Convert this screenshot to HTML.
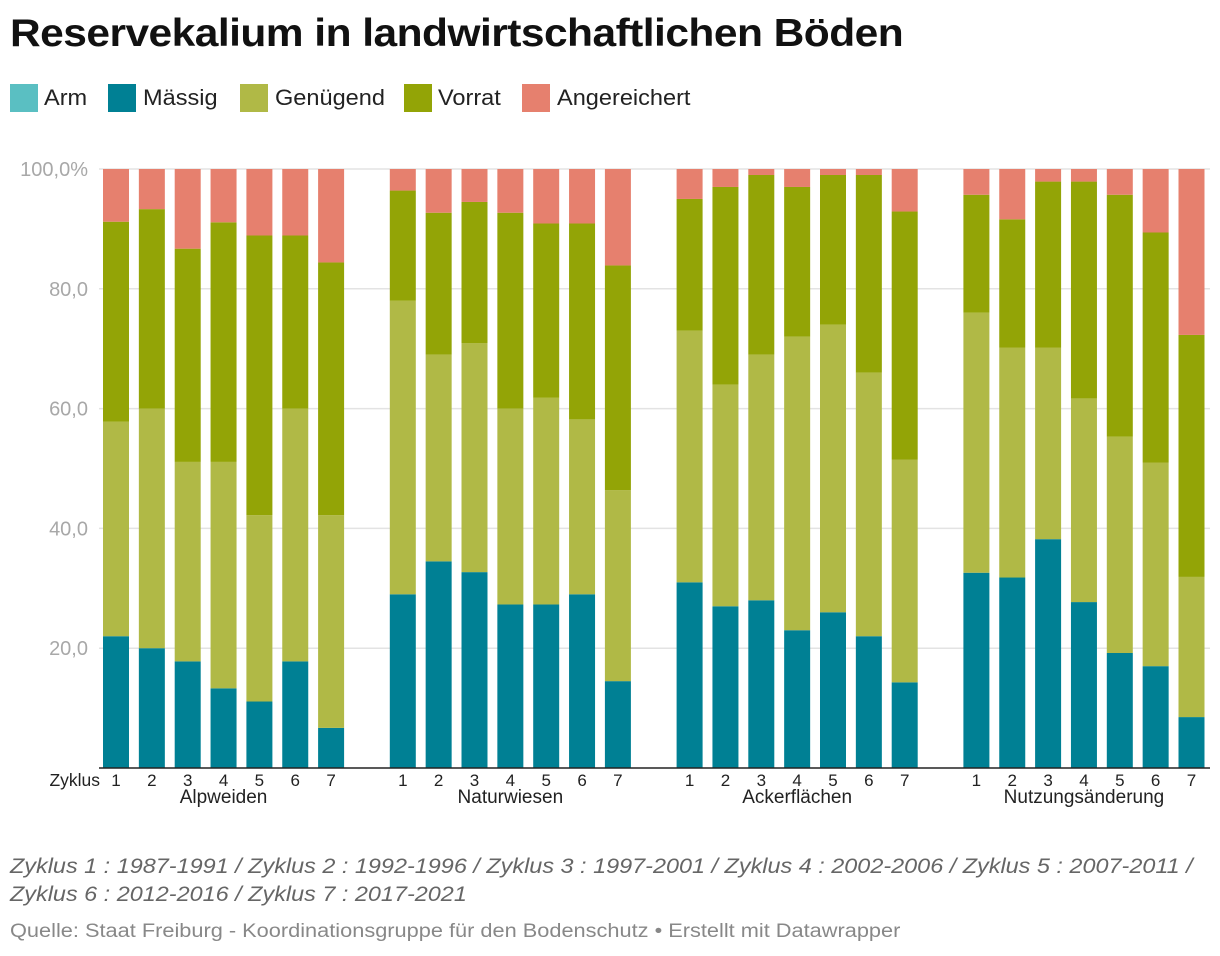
<!DOCTYPE html>
<html><head><meta charset="utf-8"><style>
body{margin:0;width:1220px;height:956px;background:#fff;font-family:"Liberation Sans",sans-serif;position:relative;overflow:hidden}
.t{position:absolute;white-space:nowrap;transform-origin:0 0}
.sw{position:absolute;top:84px;width:28px;height:28px}
.lg{font-size:22px;color:#222;top:85px;transform:scaleX(1.07)}
</style></head><body>
<div class="t" style="left:10px;top:12px;font-size:39px;font-weight:bold;color:#111;letter-spacing:-0.5px;transform:scaleX(1.09)">Reservekalium in landwirtschaftlichen Böden</div>
<div>
<div class="sw" style="left:10px;background:#5abfc2"></div><div class="t lg" style="left:44px">Arm</div>
<div class="sw" style="left:108px;background:#008094"></div><div class="t lg" style="left:143px">Mässig</div>
<div class="sw" style="left:240px;background:#b0b946"></div><div class="t lg" style="left:275px">Genügend</div>
<div class="sw" style="left:404px;background:#93a406"></div><div class="t lg" style="left:438px">Vorrat</div>
<div class="sw" style="left:522px;background:#e6806e"></div><div class="t lg" style="left:557px">Angereichert</div>
</div>
<svg id="c" width="1220" height="956" style="position:absolute;left:0;top:0"></svg>
<div class="t" style="left:10px;top:853px;font-size:21px;font-style:italic;color:#666;line-height:28px;transform:scaleX(1.115)">Zyklus 1 : 1987-1991 / Zyklus 2 : 1992-1996 / Zyklus 3 : 1997-2001 / Zyklus 4 : 2002-2006 / Zyklus 5 : 2007-2011 /<br>Zyklus 6 : 2012-2016 / Zyklus 7 : 2017-2021</div>
<div class="t" style="left:10px;top:921px;font-size:19px;color:#888;transform:scaleX(1.145)">Quelle: Staat Freiburg - Koordinationsgruppe für den Bodenschutz • Erstellt mit Datawrapper</div>
<script>
const groups=["Alpweiden","Naturwiesen","Ackerflächen","Nutzungsänderung"];
const cycles=["1","2","3","4","5","6","7"];
const arm=[0,0,0,0,0,0,0, 0,0,0,0,0,0,0, 0,0,0,0,0,0,0, 0,0,0,0,0,0,0];
const maessig=[22,20,17.8,13.3,11.1,17.8,6.7, 29,34.5,32.7,27.3,27.3,29,14.5, 31,27,28,23,26,22,14.3, 32.6,31.8,38.2,27.7,19.2,17,8.5];
const genuegend=[35.8,40,33.3,37.8,31.1,42.2,35.5, 49,34.5,38.2,32.7,34.5,29.2,31.9, 42,37,41,49,48,44,37.2, 43.4,38.4,32,34,36.1,34,23.4];
const vorrat=[33.4,33.3,35.6,40,46.7,28.9,42.2, 18.4,23.7,23.6,32.7,29.1,32.7,37.5, 22,33,30,25,25,33,41.4, 19.7,21.4,27.7,36.2,40.4,38.4,40.4];
const angereichert=[8.8,6.7,13.3,8.9,11.1,11.1,15.6, 3.6,7.3,5.5,7.3,9.1,9.1,16.1, 5,3,1,3,1,1,7.1, 4.3,8.4,2.1,2.1,4.3,10.6,27.7];
const yTicks=[20,40,60,80,100];
const yTickLabels=["20,0","40,0","60,0","80,0","100,0%"];
const series=[[arm,"#5abfc2","arm"],[maessig,"#008094","maessig"],[genuegend,"#b0b946","genuegend"],[vorrat,"#93a406","vorrat"],[angereichert,"#e6806e","angereichert"]];
const svg=document.getElementById('c');const NS="http://www.w3.org/2000/svg";
const y0=768,y1=169;const y=v=>y0-(v/100)*(y0-y1);
const slot=35.85,bw=26;const xc=(g,i)=>116+(g*8+i)*slot;
function mk(t,a,txt){const e=document.createElementNS(NS,t);for(const k in a)e.setAttribute(k,a[k]);if(txt!=null)e.textContent=txt;svg.appendChild(e);return e;}
yTicks.forEach((t,k)=>{const l=mk('line',{x1:99,x2:1210,y1:y(t),y2:y(t),stroke:'#e3e3e3','stroke-width':1.5});


const tx=mk('text',{x:88,y:y(t)+7,'text-anchor':'end','font-size':20,fill:'#a8a8a8','font-family':'Liberation Sans'},yTickLabels[k]);

});
groups.forEach((g,gi)=>{cycles.forEach((c,ci)=>{const idx=gi*7+ci;let acc=0;
series.forEach(([arr,col,nm])=>{const v=arr[idx];const r=mk('rect',{x:xc(gi,ci)-bw/2,y:y(acc+v),width:bw,height:Math.max(0,y(acc)-y(acc+v)),fill:col});

acc+=v;});
const tl=mk('text',{x:xc(gi,ci),y:786,'text-anchor':'middle','font-size':17,fill:'#222','font-family':'Liberation Sans'},c);

});
const gl=mk('text',{x:xc(gi,3),y:803,'text-anchor':'middle','font-size':19,fill:'#222','font-family':'Liberation Sans'},g);

});
const ax=mk('line',{x1:99,x2:1210,y1:768,y2:768,stroke:'#222','stroke-width':1.5});


const zy=mk('text',{x:100,y:786,'text-anchor':'end','font-size':17.5,fill:'#222','font-family':'Liberation Sans'},'Zyklus');


</script>
</body></html>
